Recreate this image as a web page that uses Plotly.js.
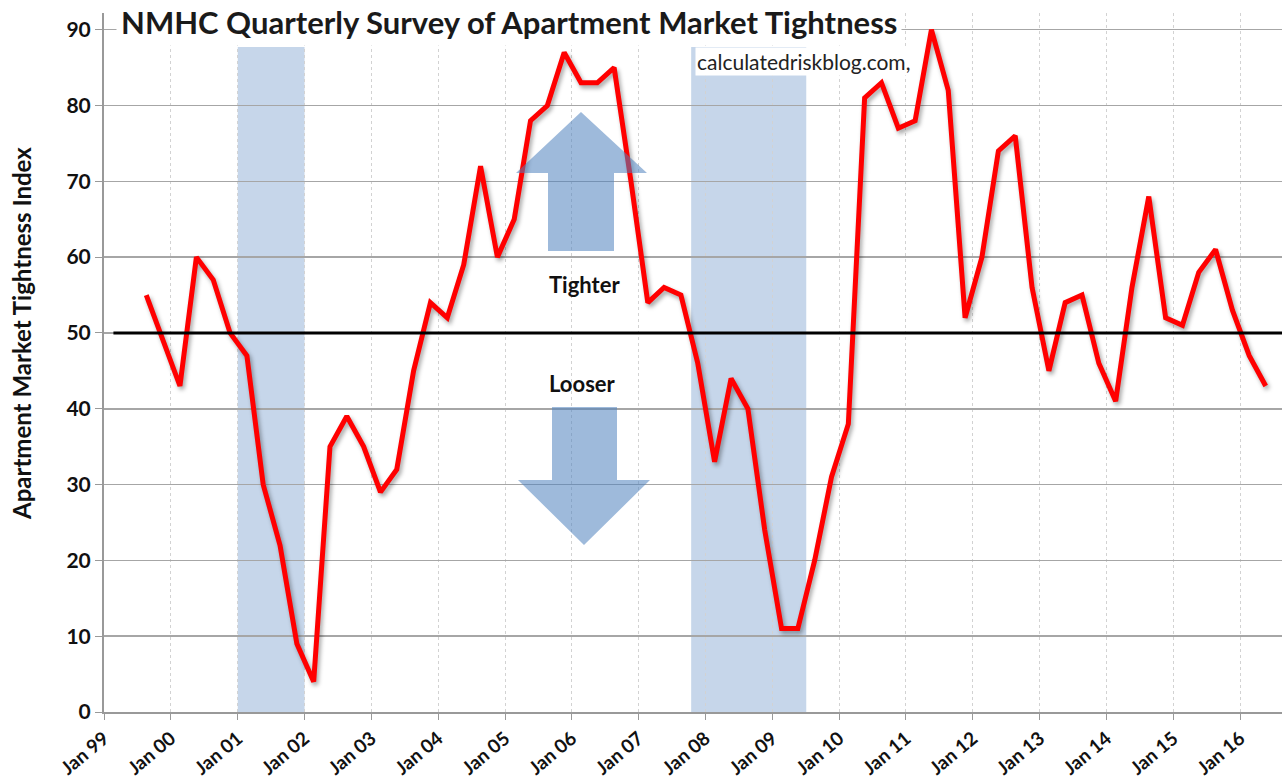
<!DOCTYPE html>
<html>
<head>
<meta charset="utf-8">
<script src="https://cdn.plot.ly/plotly-3.0.1.min.js"></script>
<style>
html,body{margin:0;padding:0;background:#fff;}
#chart{width:1282px;height:779px;}
.scatterlayer .js-line{filter:drop-shadow(2px 3px 2px rgba(0,0,0,0.35));}
</style>
</head>
<body>
<div id="chart"></div>
<script>
// Quarterly survey dates (plotted mid-quarter as in the source)
var dates = [
  "1999-08-20","1999-11-20",
  "2000-02-20","2000-05-20","2000-08-20","2000-11-20",
  "2001-02-20","2001-05-20","2001-08-20","2001-11-20",
  "2002-02-20","2002-05-20","2002-08-20","2002-11-20",
  "2003-02-20","2003-05-20","2003-08-20","2003-11-20",
  "2004-02-20","2004-05-20","2004-08-20","2004-11-20",
  "2005-02-20","2005-05-20","2005-08-20","2005-11-20",
  "2006-02-20","2006-05-20","2006-08-20","2006-11-20",
  "2007-02-20","2007-05-20","2007-08-20","2007-11-20",
  "2008-02-20","2008-05-20","2008-08-20","2008-11-20",
  "2009-02-20","2009-05-20","2009-08-20","2009-11-20",
  "2010-02-20","2010-05-20","2010-08-20","2010-11-20",
  "2011-02-20","2011-05-20","2011-08-20","2011-11-20",
  "2012-02-20","2012-05-20","2012-08-20","2012-11-20",
  "2013-02-20","2013-05-20","2013-08-20","2013-11-20",
  "2014-02-20","2014-05-20","2014-08-20","2014-11-20",
  "2015-02-20","2015-05-20","2015-08-20","2015-11-20",
  "2016-02-20","2016-05-20"
];
var tightnessIndex = [
  55,49,
  43,60,57,50,
  47,30,22,9,
  4,35,39,35,
  29,32,45,54,
  52,59,72,60,
  65,78,80,87,
  83,83,85,70,
  54,56,55,46,
  33,44,40,24,
  11,11,20,31,
  38,81,83,77,
  78,90,82,52,
  60,74,76,56,
  45,54,55,46,
  41,56,68,52,
  51,58,61,53,
  47,43
];
// Recession periods (shaded)
var recessionStarts = ["2001-01-01","2007-10-15"];
var recessionEnds   = ["2002-01-01","2009-07-05"];
var recessionTop = 87.7;
var neutralLevel = 50;

var titleText = "NMHC Quarterly Survey of Apartment Market Tightness";
var yTitle = "Apartment Market Tightness Index";
var sourceText = "calculatedriskblog.com,";

var FONT = "Lato, 'Open Sans', sans-serif";

var trace = {
  x: dates, y: tightnessIndex, type: "scatter", mode: "lines",
  line: {color: "#ff0000", width: 5},
  hoverinfo: "x+y", showlegend: false
};

var shapes = [];
for (var i = 0; i < recessionStarts.length; i++) {
  shapes.push({type: "rect", xref: "x", yref: "y", x0: recessionStarts[i], x1: recessionEnds[i],
    y0: 0, y1: recessionTop, fillcolor: "#c6d6ea", line: {width: 0}, layer: "below"});
}
// 50 neutral line
shapes.push({type: "line", xref: "paper", yref: "y", x0: 0.008, x1: 1, y0: neutralLevel, y1: neutralLevel,
  line: {color: "#000", width: 3}, layer: "above"});
// Arrows (decorations, paper coords)
function px(x){ return (x - 104) / 1178; }
function py(y){ return (712 - y) / 699; }
function arrowPath(pts){
  return "M " + pts.map(function(p){ return px(p[0]).toFixed(5) + "," + py(p[1]).toFixed(5); }).join(" L ") + " Z";
}
var upArrow = [[548,251],[548,173],[516,173],[581,112],[647,173],[614,173],[614,251]];
var downArrow = [[552,407],[552,480],[518,480],[584,545],[650,480],[617,480],[617,407]];
shapes.push({type: "path", xref: "paper", yref: "paper", path: arrowPath(upArrow),
  fillcolor: "rgba(79,129,189,0.55)", line: {width: 0}, layer: "above"});
shapes.push({type: "path", xref: "paper", yref: "paper", path: arrowPath(downArrow),
  fillcolor: "rgba(79,129,189,0.55)", line: {width: 0}, layer: "above"});

var annotations = [
  {text: "<b>" + titleText + "</b>", xref: "paper", yref: "paper", x: px(116), y: py(22),
   xanchor: "left", yanchor: "middle", showarrow: false, bgcolor: "#ffffff", borderpad: 4,
   font: {family: FONT, size: 31, color: "#1a1a1a"}},
  {text: sourceText, xref: "paper", yref: "paper", x: px(695), y: py(61),
   xanchor: "left", yanchor: "middle", showarrow: false, bgcolor: "#ffffff", borderpad: 1,
   font: {family: FONT, size: 21, color: "#222"}},
  {text: "<b>Tighter</b>", xref: "paper", yref: "paper", x: px(584), y: py(284),
   xanchor: "center", yanchor: "middle", showarrow: false,
   font: {family: FONT, size: 22, color: "#111"}},
  {text: "<b>Looser</b>", xref: "paper", yref: "paper", x: px(582), y: py(383),
   xanchor: "center", yanchor: "middle", showarrow: false,
   font: {family: FONT, size: 22, color: "#111"}},
  {text: "<b>" + yTitle + "</b>", xref: "paper", yref: "paper", x: px(22), y: py(334),
   xanchor: "center", yanchor: "middle", textangle: -90, showarrow: false,
   font: {family: FONT, size: 24, color: "#111"}}
];

var layout = {
  width: 1282, height: 779,
  margin: {l: 104, r: 0, t: 13, b: 67},
  paper_bgcolor: "#fff", plot_bgcolor: "#fff",
  font: {family: FONT, color: "#111"},
  showlegend: false,
  xaxis: {
    type: "date", range: ["1999-01-01", "2016-08-17"],
    tick0: "1999-01-01", dtick: "M12", tickformat: "%b %y",
    tickangle: -40, ticks: "outside", ticklen: 6, tickcolor: "#999",
    tickfont: {family: FONT, size: 19, color: "#111", weight: "bold"},
    showgrid: true, gridcolor: "#d2d2d2", griddash: "3px,3px", gridwidth: 1,
    showline: true, linecolor: "#999", linewidth: 2,
    zeroline: false, fixedrange: true, automargin: false
  },
  yaxis: {
    range: [0, 92.2], tick0: 0, dtick: 10,
    ticks: "outside", ticklen: 7, tickcolor: "#999",
    tickfont: {family: FONT, size: 21, color: "#111", weight: "bold"},
    showgrid: true, gridcolor: "#a6a6a6", gridwidth: 1.5,
    showline: true, linecolor: "#999", linewidth: 2,
    zeroline: false, fixedrange: true, automargin: false
  },
  shapes: shapes,
  annotations: annotations
};

Plotly.newPlot("chart", [trace], layout, {displayModeBar: false, staticPlot: true});
</script>
</body>
</html>
